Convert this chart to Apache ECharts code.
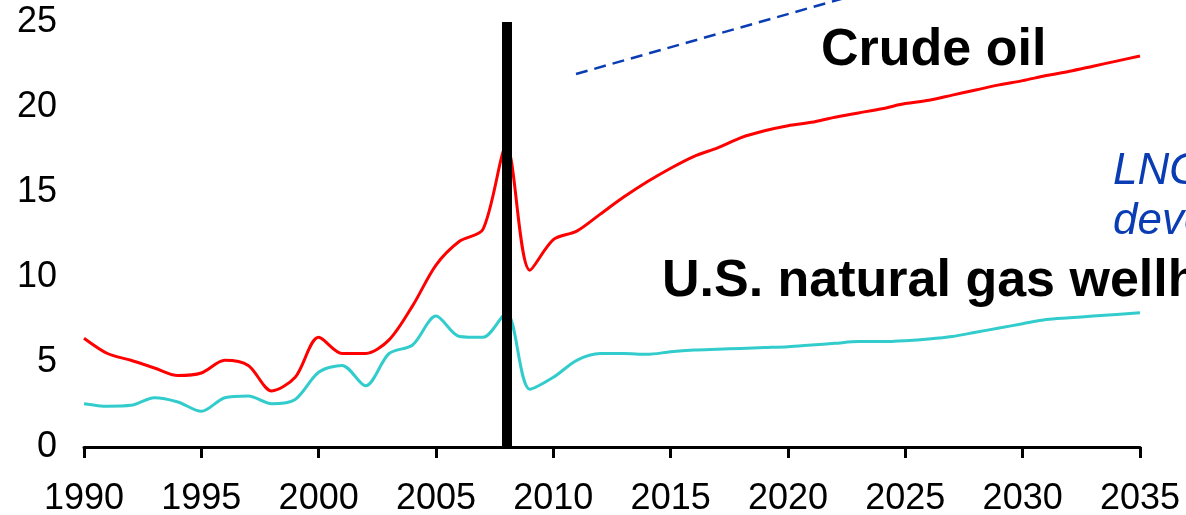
<!DOCTYPE html>
<html>
<head>
<meta charset="utf-8">
<script src="https://cdn.jsdelivr.net/npm/echarts@6/dist/echarts.min.js"></script>
<style>
    html, body { margin: 0; padding: 0; background: #fff; }
    #chart { width: 1186px; height: 515px; }
</style>
</head>
<body>
<div id="chart"></div>
<script>
    // 年份
    var years = [1990, 1991, 1992, 1993, 1994, 1995, 1996, 1997, 1998, 1999,
        2000, 2001, 2002, 2003, 2004, 2005, 2006, 2007, 2008, 2009,
        2010, 2011, 2012, 2013, 2014, 2015, 2016, 2017, 2018, 2019,
        2020, 2021, 2022, 2023, 2024, 2025, 2026, 2027, 2028, 2029,
        2030, 2031, 2032, 2033, 2034, 2035];
    // crude oil
    var crudeOil = [6.4, 5.5, 5.1, 4.65, 4.2, 4.35, 5.1, 4.8, 3.3, 4.1,
        6.45, 5.5, 5.5, 6.3, 8.3, 10.7, 12.1, 12.8, 17.7, 10.4,
        12.2, 12.7, 13.7, 14.7, 15.6, 16.4, 17.1, 17.6, 18.2, 18.6,
        18.9, 19.1, 19.4, 19.65, 19.9, 20.2, 20.4, 20.7, 21.0, 21.3,
        21.55, 21.85, 22.1, 22.4, 22.7, 23.0];
    // U.S. natural gas wellhead
    var naturalGas = [2.55, 2.4, 2.45, 2.9, 2.65, 2.1, 2.9, 3.0, 2.55, 2.8,
        4.4, 4.8, 3.6, 5.5, 6.0, 7.7, 6.5, 6.45, 7.9, 3.4,
        4.1, 5.1, 5.5, 5.5, 5.45, 5.6, 5.7, 5.75, 5.8, 5.85,
        5.9, 6.0, 6.1, 6.2, 6.2, 6.25, 6.35, 6.5, 6.75, 7.0,
        7.25, 7.5, 7.6, 7.7, 7.8, 7.9];
    var yTicks = [0, 5, 10, 15, 20, 25];
    var markYear = 2008;

    function pairs(vals) {
        return years.map(function (y, i) { return [y, vals[i]]; });
    }

    var myChart = echarts.init(document.getElementById('chart'));
    var labelFont = { color: '#000', fontSize: 36, fontFamily: 'Liberation Sans, Arial, sans-serif' };
    var blue = '#0a3cb4';

    var option = {
        animation: false,
        grid: { left: 84, right: 46, top: 22, bottom: 68, outerBoundsMode: 'none' },
        xAxis: {
            type: 'value',
            min: 1990,
            max: 2035,
            interval: 5,
            axisLine: { show: true, lineStyle: { color: '#000', width: 3 } },
            axisTick: { show: true, length: 11, lineStyle: { color: '#000', width: 3 } },
            axisLabel: Object.assign({ margin: 34, formatter: function (v) { return String(v); } }, labelFont),
            splitLine: { show: false }
        },
        yAxis: {
            type: 'value',
            min: yTicks[0],
            max: yTicks[yTicks.length - 1],
            interval: 5,
            axisLine: { show: false },
            axisTick: { show: false },
            axisLabel: Object.assign({ margin: 27 }, labelFont),
            splitLine: { show: false }
        },
        series: [
            {
                // 2008 竖线
                type: 'line',
                data: [],
                z: 1,
                markLine: {
                    silent: true,
                    symbol: 'none',
                    label: { show: false },
                    lineStyle: { color: '#000', width: 10, type: 'solid' },
                    data: [{ xAxis: markYear }]
                }
            },
            {
                name: 'Crude oil',
                type: 'line',
                z: 3,
                data: pairs(crudeOil),
                symbol: 'none',
                smooth: 0.3,
                lineStyle: { color: '#ff0000', width: 3 }
            },
            {
                name: 'U.S. natural gas wellhead',
                type: 'line',
                z: 3,
                data: pairs(naturalGas),
                symbol: 'none',
                smooth: 0.3,
                lineStyle: { color: '#33cccc', width: 3 }
            }
        ],
        graphic: [
            {
                type: 'line',
                z: 10,
                shape: { x1: 576, y1: 74, x2: 880, y2: -12 },
                style: { stroke: blue, lineWidth: 2.5, lineDash: [12, 7] }
            },
            {
                type: 'text', z: 10, x: 821, y: 51,
                style: { text: 'Crude oil', fill: '#000', font: 'bold 52px "Liberation Sans", Arial, sans-serif', textVerticalAlign: 'middle' }
            },
            {
                type: 'text', z: 10, x: 662, y: 282,
                style: { text: 'U.S. natural gas wellhead', fill: '#000', font: 'bold 52px "Liberation Sans", Arial, sans-serif', textVerticalAlign: 'middle' }
            },
            {
                type: 'text', z: 10, x: 1113, y: 172,
                style: { text: 'LNG', fill: blue, font: 'italic 44px "Liberation Sans", Arial, sans-serif', textVerticalAlign: 'middle' }
            },
            {
                type: 'text', z: 10, x: 1113, y: 222,
                style: { text: 'development', fill: blue, font: 'italic 44px "Liberation Sans", Arial, sans-serif', textVerticalAlign: 'middle' }
            }
        ]
    };

    myChart.setOption(option);
    window.addEventListener('resize', function () {
        myChart.resize();
    });
</script>
</body>
</html>
